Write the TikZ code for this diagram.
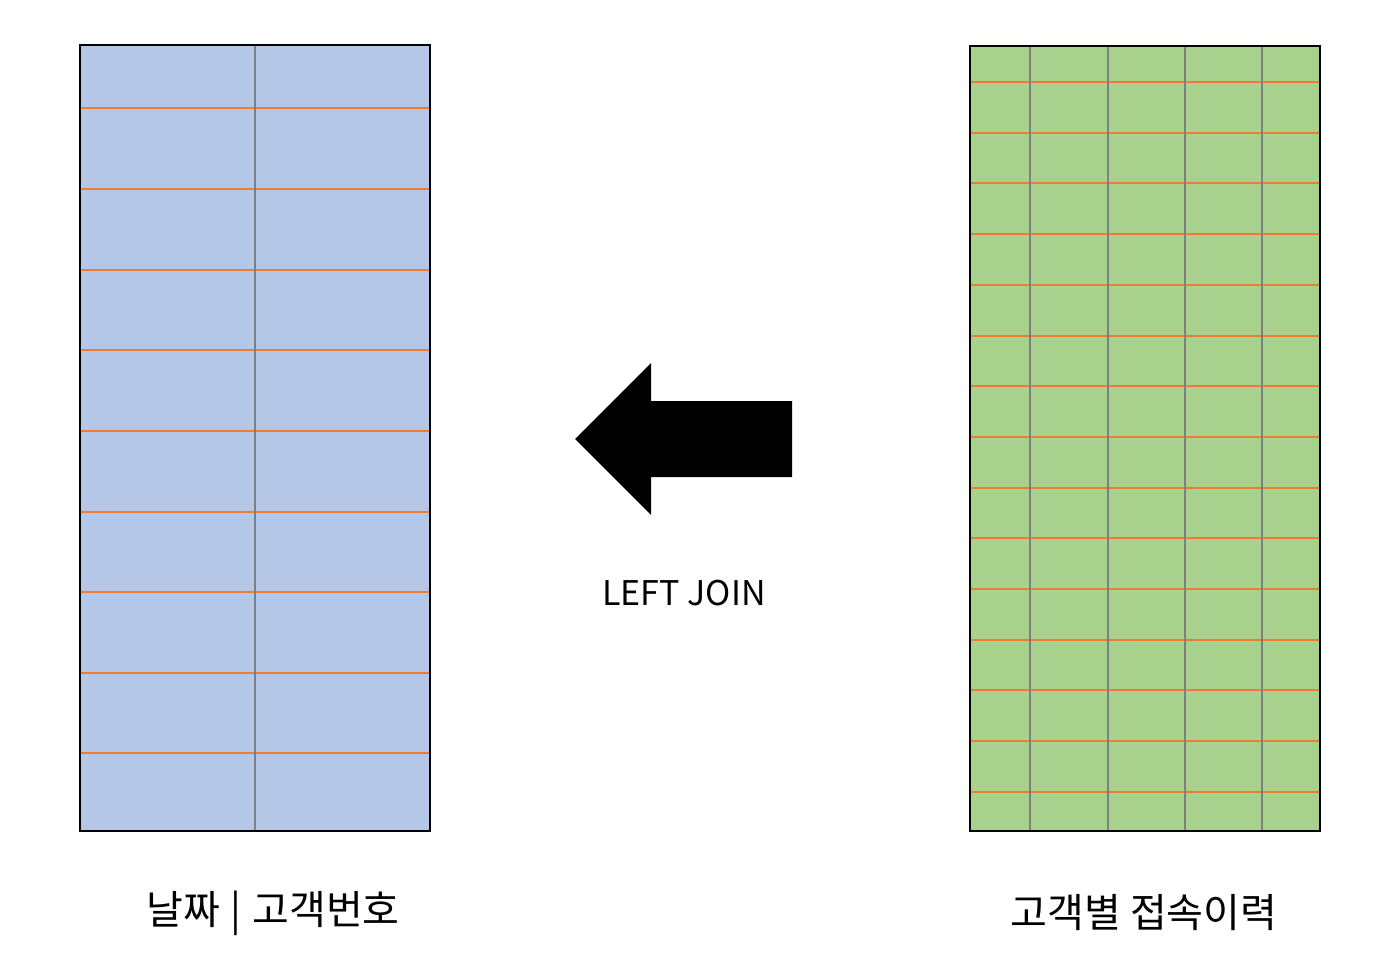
\documentclass[tikz,border=0pt]{standalone}
\usepackage{fontspec}
\setmainfont{Noto Sans CJK KR}
\definecolor{tblblue}{HTML}{B4C7E7}
\definecolor{tblgreen}{HTML}{A9D18E}
\definecolor{rowline}{HTML}{ED7D31}
\definecolor{colline}{HTML}{7F7F7F}
\begin{document}
\begin{tikzpicture}[x=1pt, y=-1pt, font=\fontsize{40}{44}\selectfont]
  \useasboundingbox (0,0) rectangle (1395,968); % page size of the reference

  % Left table: date | customer number
  \fill[tblblue] (80,45) rectangle (430,831); % table body
  \foreach \y in {108,189,270,350,431,512,592,673,753} {
    \draw[rowline, line width=1.2pt] (80,\y) -- (430,\y); % row borders
  }
  \draw[colline, line width=1.2pt] (255,45) -- (255,831); % column border
  \draw[line width=2pt] (80,45) rectangle (430,831); % outer frame

  % Right table: access history per customer
  \fill[tblgreen] (970,46) rectangle (1320,831); % table body
  \foreach \y in {82,133,183,234,285,336,386,437,488,538,589,640,690,741,792} {
    \draw[rowline, line width=1.2pt] (970,\y) -- (1320,\y); % row borders
  }
  \foreach \x in {1030,1108,1185,1262} {
    \draw[colline, line width=1.2pt] (\x,46) -- (\x,831); % column borders
  }
  \draw[line width=2pt] (970,46) rectangle (1320,831); % outer frame

  % Block arrow pointing left
  \fill[black] (575,439) -- (651,363) -- (651,401) -- (792,401)
    -- (792,477) -- (651,477) -- (651,515) -- cycle;

  % Labels
  \node[font=\fontsize{34}{40}\selectfont] (join) at (684,593) {LEFT JOIN};
  \node (lefttitle) at (273,913) {날짜 \hspace{2pt}|\hspace{2pt} 고객번호};
  \node (righttitle) at (1144,913) {고객별 접속이력};
\end{tikzpicture}
\end{document}
